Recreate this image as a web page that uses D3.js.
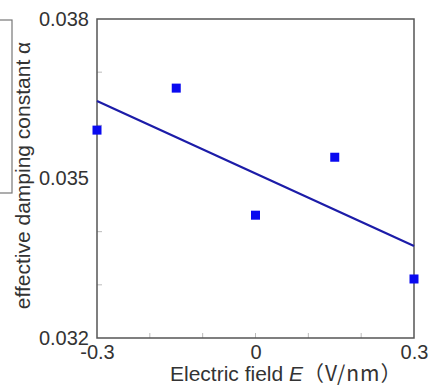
<!DOCTYPE html>
<html>
<head>
<meta charset="utf-8">
<script src="https://cdn.jsdelivr.net/npm/d3@7"></script>
<style>
  body { margin: 0; background: #fff; }
  svg { display: block; }
</style>
</head>
<body>
<svg id="chart"></svg>
<script>
// measured points
const fieldValues = [-0.3, -0.15, 0, 0.15, 0.3];
const alphaValues = [0.03591, 0.03670, 0.03431, 0.03540, 0.03311];

// linear fit, end points
const fitField = [-0.3, 0.3];
const fitAlpha = [0.03646, 0.03373];

const xTickLabels = [-0.3, 0, 0.3];
const yTickLabels = [0.032, 0.035, 0.038];
const xMinorTicks = [-0.2, -0.1, 0, 0.1, 0.2];
const yMinorTicks = [0.033, 0.034, 0.036, 0.037];

const W = 430, H = 386;
const margin = { top: 19, right: 16, bottom: 48, left: 97 };
const width = W - margin.left - margin.right;
const height = H - margin.top - margin.bottom;
const font = '"Liberation Sans", Arial, sans-serif';

const svg = d3.select('#chart').attr('width', W).attr('height', H);

// clipped box at left edge
svg.append('rect')
  .attr('x', -10).attr('y', 20)
  .attr('width', 22).attr('height', 173)
  .attr('fill', 'none')
  .attr('stroke', '#777')
  .attr('stroke-width', 1.2);

const g = svg.append('g')
  .attr('transform', `translate(${margin.left},${margin.top})`);

const x = d3.scaleLinear().domain([-0.3, 0.3]).range([0, width]);
const y = d3.scaleLinear().domain([0.032, 0.038]).range([height, 0]);

// minor ticks (inside)
g.selectAll('line.xminor')
  .data(xMinorTicks)
  .enter().append('line')
  .attr('x1', d => x(d)).attr('x2', d => x(d))
  .attr('y1', height).attr('y2', height - 5)
  .style('stroke', '#bbb').style('stroke-width', 1);

g.selectAll('line.yminor')
  .data(yMinorTicks)
  .enter().append('line')
  .attr('x1', 0).attr('x2', 5)
  .attr('y1', d => y(d)).attr('y2', d => y(d))
  .style('stroke', '#bbb').style('stroke-width', 1);

// frame
g.append('rect')
  .attr('width', width).attr('height', height)
  .attr('fill', 'none')
  .attr('stroke', '#555')
  .attr('stroke-width', 1.5);

// x axis labels
const xAxis = d3.axisBottom(x)
  .tickValues(xTickLabels)
  .tickSize(0)
  .tickPadding(7)
  .tickFormat(d => d === 0 ? '0' : String(d));
const xg = g.append('g')
  .attr('transform', `translate(0,${height})`)
  .style('font-family', font)
  .style('font-size', '20px')
  .call(xAxis);
xg.select('.domain').remove();
xg.selectAll('text').attr('fill', '#333');

// y axis labels
const yAxis = d3.axisLeft(y)
  .tickValues(yTickLabels)
  .tickSize(0)
  .tickPadding(8)
  .tickFormat(d3.format('.3f'));
const yg = g.append('g')
  .style('font-family', font)
  .style('font-size', '20px')
  .call(yAxis);
yg.select('.domain').remove();
yg.selectAll('text').attr('fill', '#333');

// fit line
g.append('path')
  .datum(fitField.map((f, i) => [f, fitAlpha[i]]))
  .attr('d', d3.line().x(d => x(d[0])).y(d => y(d[1])))
  .attr('fill', 'none')
  .attr('stroke', '#1c1ca8')
  .attr('stroke-width', 2.2);

// points
const s = 9;
g.selectAll('rect.pt')
  .data(fieldValues.map((f, i) => [f, alphaValues[i]]))
  .enter().append('rect')
  .attr('class', 'pt')
  .attr('x', d => x(d[0]) - s / 2)
  .attr('y', d => y(d[1]) - s / 2)
  .attr('width', s).attr('height', s)
  .attr('fill', '#0a0af0');

// axis titles
svg.append('text')
  .attr('transform', `translate(30,${margin.top + height / 2 - 3}) rotate(-90)`)
  .attr('text-anchor', 'middle')
  .style('font-family', font)
  .style('font-size', '21px')
  .attr('fill', '#333')
  .text('effective damping constant α');

const xt = svg.append('text')
  .attr('x', 170)
  .attr('y', 381)
  .style('font-family', font)
  .style('font-size', '21px')
  .attr('fill', '#333');
xt.append('tspan').text('Electric field ');
xt.append('tspan').style('font-style', 'italic').text('E');
xt.append('tspan')
  .style('font-family', '"Noto Sans CJK JP", sans-serif')
  .style('letter-spacing', '1px')
  .text('（V/nm）');
</script>
</body>
</html>
